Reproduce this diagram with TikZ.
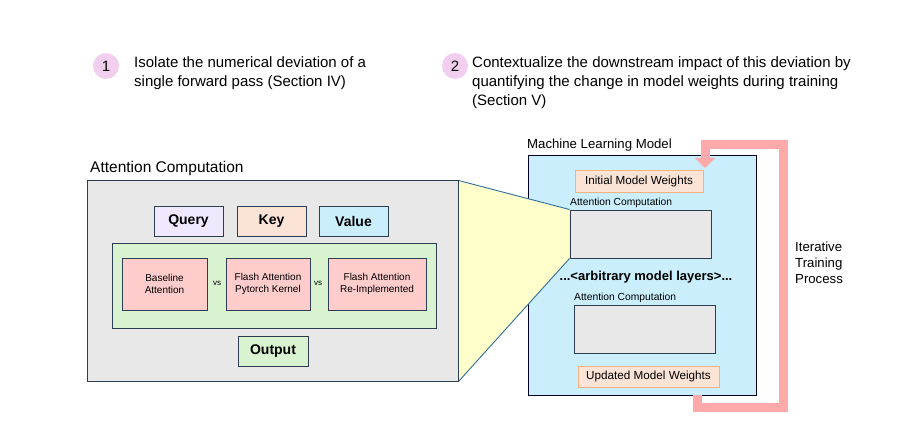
\documentclass[tikz,border=0pt]{standalone}
\usepackage{fontspec}
\setmainfont{Liberation Sans}
\usetikzlibrary{arrows.meta}
\pgfdeclarelayer{bg}
\pgfdeclarelayer{mid}
\pgfsetlayers{bg,mid,main}
\definecolor{edge}{RGB}{45,62,82}
\definecolor{grayfill}{RGB}{232,232,232}
\definecolor{queryfill}{RGB}{240,232,252}
\definecolor{keyfill}{RGB}{251,227,214}
\definecolor{valuefill}{RGB}{202,238,251}
\definecolor{greenfill}{RGB}{217,242,208}
\definecolor{implfill}{RGB}{255,204,204}
\definecolor{wtsedge}{RGB}{244,177,131}
\definecolor{zoomfill}{RGB}{255,255,204}
\definecolor{zoomedge}{RGB}{46,110,160}
\definecolor{numfill}{RGB}{242,206,239}
\definecolor{loopcol}{RGB}{255,170,170}
\begin{document}
\begin{tikzpicture}[x=1pt, y=-1pt,
    box/.style={draw=edge, line width=1pt, inner sep=0pt, align=center},
    hdr/.style={box, font=\bfseries\fontsize{14}{16}\selectfont},
    impl/.style={box, fill=implfill, minimum height=52pt, font=\fontsize{10}{12.3}\selectfont},
    wts/.style={draw=wtsedge, fill=keyfill, line width=0.9pt, inner sep=0pt, font=\fontsize{11.7}{14}\selectfont},
    lbl/.style={anchor=west, inner sep=0pt, align=left},
    num/.style={circle, fill=numfill, minimum size=26pt, inner sep=0pt, font=\fontsize{15}{18}\selectfont}]
    \useasboundingbox (0,0) rectangle (924,441);
    \node[num] (n1) at (106,66) {1};
    \node[lbl, font=\fontsize{15}{19}\selectfont] (t1) at (134,73.5) {Isolate the numerical deviation of a\\single forward pass (Section IV)};
    \node[num] (n2) at (455,66) {2};
    \node[lbl, font=\fontsize{15}{19}\selectfont] (t2) at (472,83) {Contextualize the downstream impact of this deviation by\\quantifying the change in model weights during training\\(Section V)};

    \node[lbl, font=\fontsize{15.5}{18}\selectfont] (attlbl) at (90,168) {Attention Computation};
    \node[box, fill=grayfill, minimum width=371pt, minimum height=200pt] (big) at (272.5,281) {};
    \node[hdr, fill=queryfill, minimum width=69pt, minimum height=30pt] (query) at (188.5,221) {Query};
    \node[hdr, fill=keyfill, minimum width=69pt, minimum height=30pt] (key) at (271.5,221) {Key};
    \node[hdr, fill=valuefill, minimum width=69pt, minimum height=30pt] (value) at (353.5,221) {Value};
    \node[box, fill=greenfill, minimum width=324pt, minimum height=85pt] (grn) at (274,285.5) {};
    \node[impl, minimum width=85pt] (base) at (164.5,284) {Baseline\\Attention};
    \node[impl, minimum width=84pt] (torch) at (268,284) {Flash Attention\\Pytorch Kernel};
    \node[impl, minimum width=98pt] (reimp) at (377,284) {Flash Attention\\Re-Implemented};
    \node[font=\fontsize{8}{9}\selectfont, inner sep=0pt] (vs1) at (217,283) {vs};
    \node[font=\fontsize{8}{9}\selectfont, inner sep=0pt] (vs2) at (318,283) {vs};
    \node[hdr, fill=greenfill, minimum width=70pt, minimum height=30pt] (out) at (273,351) {Output};

    \node[lbl, font=\fontsize{13.2}{16}\selectfont] (mllbl) at (527,145) {Machine Learning Model};
    \begin{pgfonlayer}{bg}
        \node[box, fill=valuefill, draw=black!85!blue, minimum width=228pt, minimum height=239pt] (model) at (642,275.5) {};
    \end{pgfonlayer}
    \node[wts, minimum width=128pt, minimum height=22pt] (init) at (639,181) {Initial Model Weights};
    \node[lbl, font=\fontsize{10.3}{12}\selectfont] (g1lbl) at (570,203) {Attention Computation};
    \node[box, fill=grayfill, minimum width=141pt, minimum height=48pt] (g1) at (640.5,234) {};
    \node[font=\bfseries\fontsize{13}{15}\selectfont, inner sep=0pt] (dots) at (646,277) {...<arbitrary model layers>...};
    \node[lbl, font=\fontsize{10.3}{12}\selectfont] (g2lbl) at (574,298) {Attention Computation};
    \node[box, fill=grayfill, minimum width=141pt, minimum height=48pt] (g2) at (644.5,329) {};
    \node[wts, minimum width=141pt, minimum height=21pt] (upd) at (648.5,376.5) {Updated Model Weights};

    \begin{pgfonlayer}{mid}
        \fill[zoomfill] (big.north east) -- (g1.north west) -- (g1.south west) -- (big.south east) -- cycle;
        \draw[zoomedge, line width=0.9pt] (big.north east) -- (g1.north west) (g1.south west) -- (big.south east);
    \end{pgfonlayer}

    \coordinate (loopout) at (697,395);
    \coordinate (loopin) at (705,168);
    \draw[loopcol, line width=9pt, -{Triangle[width=20pt,length=10pt]}] (loopout) |- (783,407) |- (705,145) -- (loopin);
    \node[lbl, font=\fontsize{13.2}{16}\selectfont] (iter) at (795,263) {Iterative\\Training\\Process};
\end{tikzpicture}
\end{document}
